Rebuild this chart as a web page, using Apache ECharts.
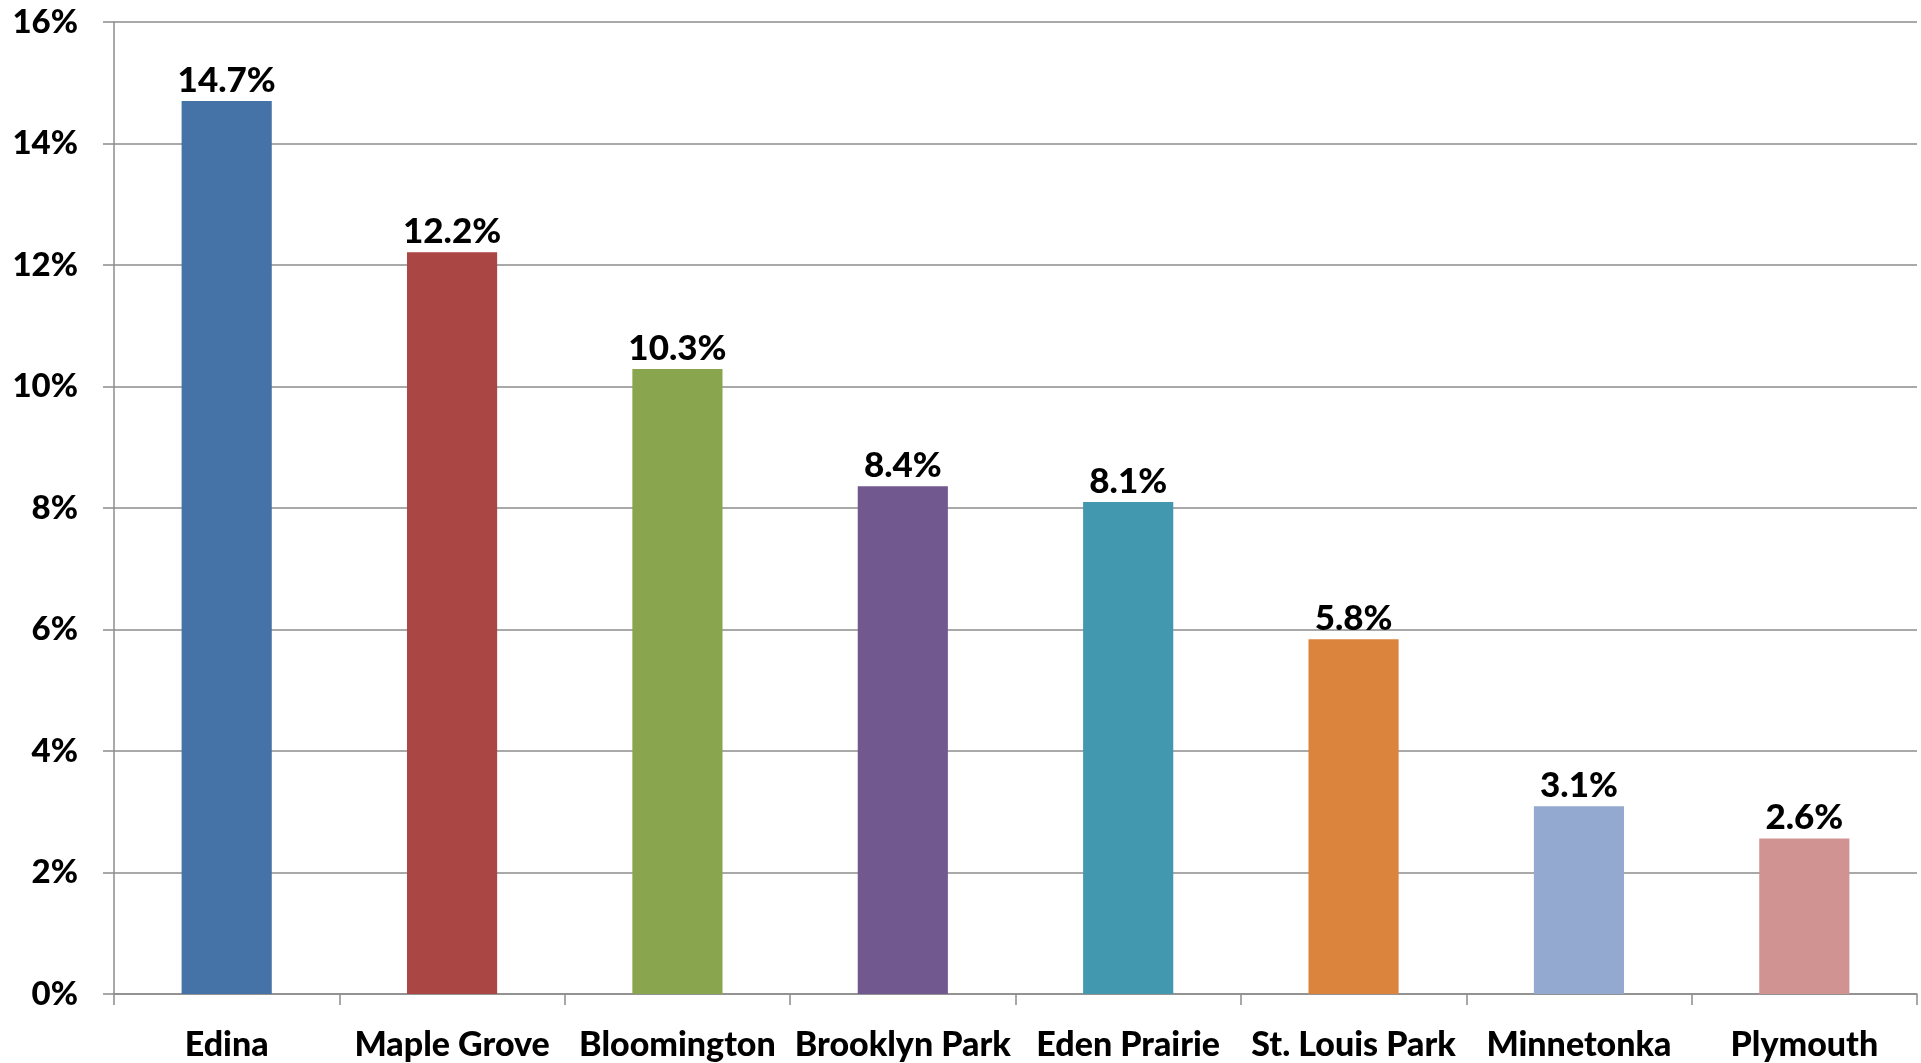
<!DOCTYPE html>
<html>
<head>
<meta charset="utf-8">
<script src="https://cdn.jsdelivr.net/npm/echarts@6/dist/echarts.min.js"></script>
<style>
html,body{margin:0;padding:0;background:#fff;}
#chart{width:1921px;height:1063px;}
</style>
</head>
<body>
<div id="chart"></div>
<script>
const categories = ['Edina', 'Maple Grove', 'Bloomington', 'Brooklyn Park', 'Eden Prairie', 'St. Louis Park', 'Minnetonka', 'Plymouth'];
const values = [14.7, 12.21, 10.29, 8.36, 8.1, 5.84, 3.09, 2.56];
const barColors = ['#4572A7', '#AA4643', '#89A54E', '#71588F', '#4198AF', '#DB843D', '#93A9CF', '#D19392'];

const chart = echarts.init(document.getElementById('chart'));
const font = 'Lato, "Open Sans", sans-serif';
chart.setOption({
  animation: false,
  backgroundColor: '#ffffff',
  grid: { left: 114, right: 4, top: 22, bottom: 69, containLabel: false },
  xAxis: {
    type: 'category',
    data: categories,
    axisLine: { show: true, lineStyle: { color: '#8c8c8c', width: 1.5 } },
    axisTick: { show: true, alignWithLabel: false, length: 11, lineStyle: { color: '#8c8c8c', width: 1.5 } },
    axisLabel: { color: '#000', fontFamily: font, fontWeight: 900, fontSize: 34, margin: 34, interval: 0 }
  },
  yAxis: {
    type: 'value',
    min: 0, max: 16, interval: 2,
    axisLine: { show: true, lineStyle: { color: '#8c8c8c', width: 1.5 } },
    axisTick: { show: true, length: 11, lineStyle: { color: '#8c8c8c', width: 1.5 } },
    splitLine: { show: true, lineStyle: { color: '#8c8c8c', width: 1.5 } },
    axisLabel: { color: '#000', fontFamily: font, fontWeight: 900, fontSize: 33, margin: 36,
      formatter: v => v + '%' }
  },
  series: [{
    type: 'bar',
    data: values.map((v, i) => ({ value: v, itemStyle: { color: barColors[i] } })),
    barWidth: '40%',
    label: {
      show: true, position: 'top', distance: 3,
      color: '#000', fontFamily: font, fontWeight: 900, fontSize: 35,
      formatter: p => p.value.toFixed(1) + '%'
    }
  }]
});
</script>
</body>
</html>
